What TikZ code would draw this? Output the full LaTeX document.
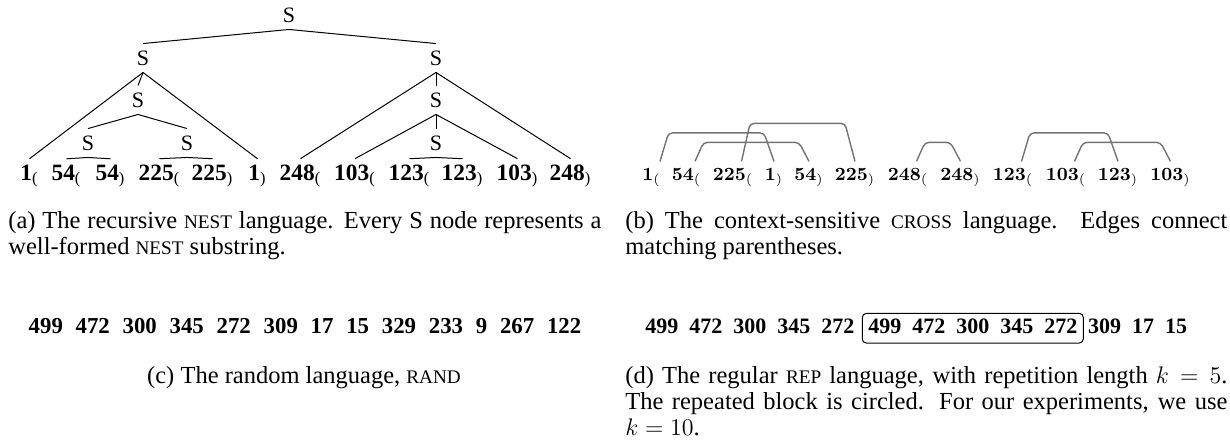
\documentclass[tikz,border=0pt]{standalone}
\usepackage[no-math]{fontspec}
\setmainfont{Liberation Serif}
\newfontfamily\lmfont{Latin Modern Roman}
\usetikzlibrary{positioning}

\newcommand{\smc}[1]{{\fontsize{9.6}{10}\selectfont #1}}
\newcommand{\subo}{\textsubscript{\mdseries(}}
\newcommand{\subc}{\textsubscript{\mdseries)}}

\begin{document}
\begin{tikzpicture}[x=0.5pt, y=-0.5pt,
                snode/.style = {font=\fontsize{11}{13}\selectfont},
                leaf/.style = {anchor=base, inner sep=2.7pt, font={\fontsize{11.7}{14}\selectfont\bfseries}},
                pleaf/.style = {anchor=base, inner sep=3pt, font={\fontsize{9.3}{11}\selectfont\lmfont\bfseries}},
                pairline/.style = {draw=black!55, line width=0.7pt, rounded corners=2pt},
                captext/.style = {anchor=base west, inner sep=0pt, align=justify, font={\fontsize{12.25}{13}\selectfont}},
                seqrow/.style = {anchor=base, inner sep=0pt, font={\fontsize{11.4}{13}\selectfont\bfseries\spaceskip=6.4pt}},
                reprow/.style = {anchor=base west, inner sep=0pt, font={\fontsize{11}{13}\selectfont\bfseries\spaceskip=5.5pt}},
                repbox/.style = {draw, rounded corners=2pt, line width=0.5pt, inner xsep=3pt, inner ysep=2.5pt, text depth=2.5pt}]
                \useasboundingbox (0, 0) rectangle (1230, 441);

                \node[snode] at (289, 15) (s0) {S};
                \node[snode] at (143, 58) (sL) {S};
                \node[snode] at (436, 58) (sR) {S};
                \node[snode] at (138, 100) (sL2) {S};
                \node[snode] at (436, 100) (sR2) {S};
                \node[snode] at (88, 143) (sL3a) {S};
                \node[snode] at (187, 143) (sL3b) {S};
                \node[snode] at (436, 143) (sR3) {S};

                \node[leaf] at (29.5, 180) (l1o) {1\subo};
                \node[leaf] at (66.5, 180) (l54o) {54\subo};
                \node[leaf] at (110.5, 180) (l54c) {54\subc};
                \node[leaf] at (159.5, 180) (l225o) {225\subo};
                \node[leaf] at (212.5, 180) (l225c) {225\subc};
                \node[leaf] at (257.5, 180) (l1c) {1\subc};
                \node[leaf] at (300.5, 180) (l248o) {248\subo};
                \node[leaf] at (355, 180) (l103o) {103\subo};
                \node[leaf] at (409.5, 180) (l123o) {123\subo};
                \node[leaf] at (462.5, 180) (l123c) {123\subc};
                \node[leaf] at (517.5, 180) (l103c) {103\subc};
                \node[leaf] at (570.5, 180) (l248c) {248\subc};

                \begin{scope}[line width=0.5pt]
                \draw (s0.south) -- (sL.north);
                \draw (s0.south) -- (sR.north);
                \draw (sL.south) -- (l1o.north);
                \draw (sL.south) -- (sL2.north);
                \draw (sL.south) -- (l1c.north);
                \draw (sL2.south) -- (sL3a.north);
                \draw (sL2.south) -- (sL3b.north);
                \draw (sL3a.south) -- (l54o.north);
                \draw (sL3a.south) -- (l54c.north);
                \draw (sL3b.south) -- (l225o.north);
                \draw (sL3b.south) -- (l225c.north);
                \draw (sR.south) -- (l248o.north);
                \draw (sR.south) -- (sR2.north);
                \draw (sR.south) -- (l248c.north);
                \draw (sR2.south) -- (l103o.north);
                \draw (sR2.south) -- (sR3.north);
                \draw (sR2.south) -- (l103c.north);
                \draw (sR3.south) -- (l123o.north);
                \draw (sR3.south) -- (l123c.north);
                \end{scope}

                \node[pleaf] at (651.5, 180) (c1o) {1\subo};
                \node[pleaf] at (686.5, 180) (c54o) {54\subo};
                \node[pleaf] at (733, 180) (c225o) {225\subo};
                \node[pleaf] at (774, 180) (c1c) {1\subc};
                \node[pleaf] at (809, 180) (c54c) {54\subc};
                \node[pleaf] at (855, 180) (c225c) {225\subc};
                \node[pleaf] at (908, 180) (c248o) {248\subo};
                \node[pleaf] at (960.5, 180) (c248c) {248\subc};
                \node[pleaf] at (1013, 180) (c123o) {123\subo};
                \node[pleaf] at (1066, 180) (c103o) {103\subo};
                \node[pleaf] at (1118, 180) (c123c) {123\subc};
                \node[pleaf] at (1170.5, 180) (c103c) {103\subc};

                \draw[pairline] ([xshift=4.25pt]c1o.north) -- ([xshift=8.5pt, yshift=14.25pt]c1o.north) -- ([xshift=-5pt, yshift=14.25pt]c1c.north) -- (c1c.north);
                \draw[pairline] ([xshift=4.25pt]c54o.north) -- ([xshift=8.5pt, yshift=9.5pt]c54o.north) -- ([xshift=-5pt, yshift=9.5pt]c54c.north) -- (c54c.north);
                \draw[pairline] ([xshift=4.25pt]c225o.north) -- ([xshift=8.5pt, yshift=19pt]c225o.north) -- ([xshift=-5pt, yshift=19pt]c225c.north) -- (c225c.north);
                \draw[pairline] ([xshift=4.25pt]c248o.north) -- ([xshift=8.5pt, yshift=9.5pt]c248o.north) -- ([xshift=-5pt, yshift=9.5pt]c248c.north) -- (c248c.north);
                \draw[pairline] ([xshift=4.25pt]c123o.north) -- ([xshift=8.5pt, yshift=14.25pt]c123o.north) -- ([xshift=-5pt, yshift=14.25pt]c123c.north) -- (c123c.north);
                \draw[pairline] ([xshift=4.25pt]c103o.north) -- ([xshift=8.5pt, yshift=9.5pt]c103o.north) -- ([xshift=-5pt, yshift=9.5pt]c103c.north) -- (c103c.north);

                \node[captext, text width=296.5pt] at (8, 228) (capa) {(a) The recursive \smc{NEST} language. Every S node represents a well-formed \smc{NEST} substring.};
                \node[captext, text width=301pt] at (625, 228) (capb) {(b) The context-sensitive \smc{CROSS} language. Edges connect matching parentheses.};

                \node[seqrow] at (305, 333) (randrow) {499 472 300 345 272 309 17 15 329 233 9 267 122};
                \node[anchor=base, inner sep=0pt, font={\fontsize{12.25}{13}\selectfont}] at (304, 383) (capc) {(c) The random language, \smc{RAND}};

                \node[reprow] at (645, 333) (reppre) {499 472 300 345 272};
                \node[reprow, repbox, base right=3.5pt of reppre] (repblock) {499 472 300 345 272};
                \node[reprow, base right=2pt of repblock] (reppost) {309 17 15};
                \node[captext, text width=301pt] at (625, 383) (capd) {(d) The regular \smc{REP} language, with repetition length $k = 5$. The repeated block is circled. For our experiments, we use $k = 10$.};
\end{tikzpicture}
\end{document}
